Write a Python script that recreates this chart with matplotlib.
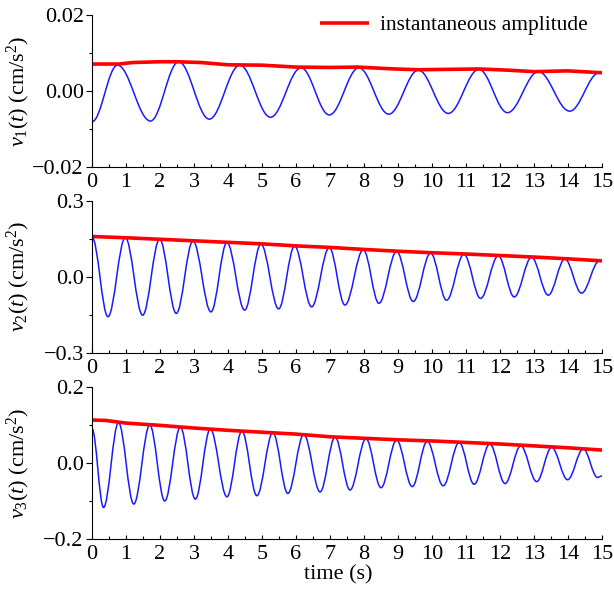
import matplotlib
matplotlib.use("Agg")
import matplotlib.pyplot as plt
from matplotlib.path import Path
from matplotlib.patches import PathPatch
from matplotlib.ticker import MultipleLocator, FuncFormatter

plt.rcParams['font.family'] = ['Liberation Serif', 'DejaVu Serif']
plt.rcParams['mathtext.fontset'] = 'custom'
plt.rcParams['mathtext.rm'] = 'Liberation Serif'
plt.rcParams['mathtext.it'] = 'Liberation Serif:italic'

# --- turning points of the response (time s, value cm/s^2) ---
t1 = [0, 0.75, 1.72, 2.55, 3.45, 4.35, 5.25, 6.15, 6.98, 7.85, 8.73, 9.6,
      10.48, 11.38, 12.22, 13.13, 14.05, 14.92, 15.0]
v1 = [-0.0081, 0.0068, -0.0079, 0.0077, -0.0074, 0.0068, -0.0069, 0.0061,
      -0.0063, 0.0061, -0.0061, 0.0055, -0.0059, 0.0057, -0.0057, 0.0051,
      -0.0053, 0.0048, 0.0047]

t2 = [0, 0.47, 0.98, 1.49, 1.99, 2.48, 2.97, 3.5, 3.97, 4.49, 4.97, 5.49,
      5.96, 6.46, 6.98, 7.44, 7.98, 8.44, 8.96, 9.45, 9.96, 10.43, 10.94,
      11.43, 11.95, 12.42, 12.93, 13.42, 13.91, 14.4, 14.92, 15.0]
v2 = [0.157, -0.157, 0.155, -0.151, 0.148, -0.144, 0.141, -0.138, 0.135,
      -0.131, 0.129, -0.126, 0.121, -0.118, 0.115, -0.111, 0.107, -0.104,
      0.1, -0.097, 0.094, -0.092, 0.089, -0.085, 0.083, -0.079, 0.077,
      -0.072, 0.07, -0.064, 0.062, 0.061]

t3 = [0, 0.34, 0.78, 1.23, 1.7, 2.14, 2.6, 3.04, 3.48, 3.97, 4.41, 4.85,
      5.32, 5.76, 6.23, 6.71, 7.15, 7.59, 8.06, 8.5, 8.96, 9.42, 9.86,
      10.33, 10.8, 11.24, 11.7, 12.15, 12.61, 13.08, 13.52, 13.99, 14.45,
      14.87, 15.0]
v3 = [0.091, -0.117, 0.106, -0.108, 0.1, -0.1, 0.094, -0.095, 0.089,
      -0.089, 0.084, -0.086, 0.08, -0.08, 0.075, -0.076, 0.068, -0.071,
      0.064, -0.065, 0.06, -0.062, 0.057, -0.06, 0.054, -0.056, 0.05,
      -0.054, 0.045, -0.049, 0.041, -0.044, 0.037, -0.038, -0.034]

# --- instantaneous amplitude ---
a1_t = [0, 0.8, 1.2, 2, 2.5, 3.2, 4, 5, 6, 7, 7.8, 8.9, 9.6, 10.5, 11.4,
        12.2, 13, 14, 15]
a1_v = [0.0071, 0.0071, 0.0075, 0.0077, 0.0077, 0.0075, 0.0069, 0.0068,
        0.0063, 0.0062, 0.0063, 0.0058, 0.0056, 0.0057, 0.0058, 0.0055,
        0.0051, 0.0053, 0.0048]

a2_t = list(range(16))
a2_v = [0.159, 0.154, 0.148, 0.142, 0.136, 0.13, 0.122, 0.116, 0.108,
        0.101, 0.095, 0.09, 0.084, 0.078, 0.071, 0.063]

a3_t = [0, 0.4, 1, 2, 3, 4, 5, 6, 7, 8, 9, 10, 11, 12, 13, 14, 15]
a3_v = [0.113, 0.112, 0.105, 0.099, 0.092, 0.086, 0.081, 0.076, 0.069,
        0.065, 0.061, 0.058, 0.054, 0.05, 0.045, 0.04, 0.034]

ylims = [0.02, 0.3, 0.2]
ylabels = [r'$v_1(t)$ (cm/s$^2$)', r'$v_2(t)$ (cm/s$^2$)', r'$v_3(t)$ (cm/s$^2$)']
ydec = [2, 1, 1]

BLUE = '#1a1aff'
RED = '#ff0000'
K = 0.365  # bezier handle fraction for smooth half-waves


def wave_patch(t, v):
    verts = [(t[0], v[0])]
    codes = [Path.MOVETO]
    for i in range(len(t) - 1):
        dt = t[i + 1] - t[i]
        verts += [(t[i] + K * dt, v[i]), (t[i + 1] - K * dt, v[i + 1]),
                  (t[i + 1], v[i + 1])]
        codes += [Path.CURVE4] * 3
    return PathPatch(Path(verts, codes), fill=False, edgecolor=BLUE, lw=1.1)


fig = plt.figure(figsize=(6.14, 5.91), dpi=100)
boxes = [[0.1498, 0.7174, 0.8306, 0.2572],
         [0.1498, 0.4027, 0.8306, 0.2577],
         [0.1498, 0.0880, 0.8306, 0.2572]]

waves = [(t1, v1), (t2, v2), (t3, v3)]
amps = [(a1_t, a1_v), (a2_t, a2_v), (a3_t, a3_v)]

axes = []
for i in range(3):
    ax = fig.add_axes(boxes[i])
    ax.add_patch(wave_patch(*waves[i]))
    red, = ax.plot(amps[i][0], amps[i][1], color=RED, lw=2.6,
                   solid_capstyle='butt')
    lim = ylims[i]
    ax.set_xlim(0, 15)
    ax.set_ylim(-lim, lim)
    ax.yaxis.set_major_locator(MultipleLocator(lim))
    ax.yaxis.set_minor_locator(MultipleLocator(lim / 2))
    ax.xaxis.set_major_locator(MultipleLocator(1))
    ax.xaxis.set_minor_locator(MultipleLocator(0.5))
    d = ydec[i]
    ax.yaxis.set_major_formatter(
        FuncFormatter(lambda x, p, d=d: f'{x:.{d}f}'.replace('-', '\u2212')))
    for s in ['top', 'right']:
        ax.spines[s].set_visible(False)
    for s in ['left', 'bottom']:
        ax.spines[s].set_linewidth(0.8)
    ax.tick_params(axis='y', which='major', direction='out', length=4,
                   width=0.8, labelsize=16, pad=2)
    ax.tick_params(axis='y', which='minor', direction='out', length=2.5,
                   width=0.8)
    ax.tick_params(axis='x', which='major', direction='in', length=3,
                   width=0.8, labelsize=16, pad=4)
    ax.tick_params(axis='x', which='minor', direction='in', length=2,
                   width=0.8)
    ax.set_ylabel(ylabels[i], fontsize=16)
    ax.yaxis.set_label_coords(-0.118, 0.5)
    axes.append(ax)
    if i == 0:
        ax.legend(handles=[red], labels=['instantaneous amplitude'],
                  loc='center right', bbox_to_anchor=(0.9725, 0.934),
                  frameon=False, fontsize=15.4, handlelength=2.3,
                  handletextpad=0.5, borderpad=0, borderaxespad=0)

axes[2].set_xlabel('time (s)', fontsize=16)
axes[2].xaxis.set_label_coords(0.482, -0.17)

fig.savefig('out.png', dpi=100)
